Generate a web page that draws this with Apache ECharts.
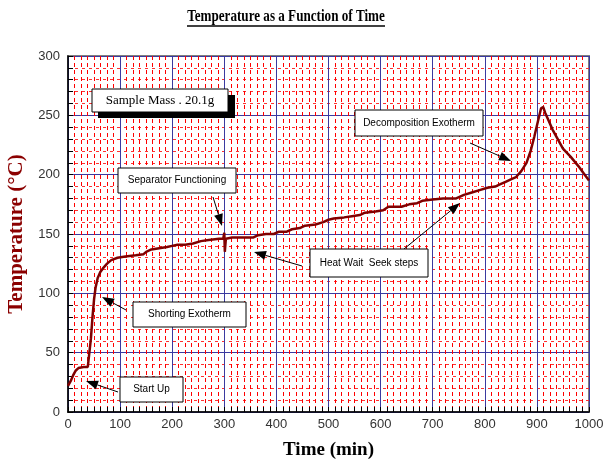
<!DOCTYPE html>
<html><head><meta charset="utf-8">
<script src="https://cdn.jsdelivr.net/npm/echarts@6/dist/echarts.min.js"></script>
<style>html,body{margin:0;padding:0;background:#fff}#c{width:603px;height:461px}</style>
</head><body><div id="c"></div>
<script>
var timeMin = [0,5,10,15,20,30,38,41,44,47,50,53,57,62,67,75,83,95,110,130,145,150,160,175,190,200,210,225,240,255,270,290,298,300,301,303,315,340,355,365,380,395,405,420,430,445,455,475,490,500,510,530,545,560,570,590,605,615,640,655,670,680,700,720,745,760,775,790,805,820,830,840,850,860,870,880,888,895,902,908,912,916,922,930,940,950,965,980,990,1000];
var tempC = [22,26,31,35,37,38,38,50,62,80,95,105,113,118,121,125,128,130,131,132,133,135,137,138,139,140,141,141,142,144,145,146,146,151,135,146,147,147,147,149,150,150,152,152,154,155,157,158,160,162,163,164,165,166,168,169,170,173,173,175,176,178,179,180,180,183,185,187,189,190,192,194,196,198,203,210,220,232,245,256,257,252,246,238,230,222,215,207,201,195];
var xTicks = [0,100,200,300,400,500,600,700,800,900,1000];
var yTicks = [0,50,100,150,200,250,300];

var annotations = [
  {text:'Separator Functioning', rect:[118,168,118,25], from:[213,197], to:[222,226]},
  {text:'Decomposition Exotherm', rect:[355,110,128,26], from:[470,143], to:[511,161]},
  {text:'Heat Wait  Seek steps', rect:[310,249,118,28], from:[302,266], to:[254,252], from2:[404,249], to2:[460,203]},
  {text:'Shorting Exotherm', rect:[133,302,113,25], from:[126,310], to:[102,297]},
  {text:'Start Up', rect:[120,377,63,25], from:[118,392], to:[86,381]}
];

function arrow(f, t) {
  var dx = t[0]-f[0], dy = t[1]-f[1], L = Math.sqrt(dx*dx+dy*dy);
  var ux = dx/L, uy = dy/L, hl = 12, hw = 4.5;
  var bx = t[0]-ux*hl, by = t[1]-uy*hl;
  return [
    {type:'line', shape:{x1:f[0],y1:f[1],x2:bx,y2:by}, style:{stroke:'#000',lineWidth:1}, z:100},
    {type:'polygon', shape:{points:[[t[0],t[1]],[bx-uy*hw,by+ux*hw],[bx+uy*hw,by-ux*hw]]}, style:{fill:'#000'}, z:100}
  ];
}

var graphics = [
  {type:'text', x:286, y:17, scaleX:0.82, style:{text:'Temperature as a Function of Time', font:'bold 16px "Liberation Serif", serif', fill:'#000', align:'center', verticalAlign:'middle'}},
  {type:'line', shape:{x1:187,y1:26,x2:385,y2:26}, style:{stroke:'#000',lineWidth:1.5}},
  {type:'rect', shape:{x:98,y:95,width:137,height:23}, style:{fill:'#000'}, z:100},
  {type:'rect', shape:{x:92,y:89,width:136,height:23}, style:{fill:'#fff',stroke:'#000',lineWidth:1}, z:101},
  {type:'text', x:160, y:101, style:{text:'Sample Mass . 20.1g', font:'13px "Liberation Serif", serif', fill:'#000', align:'center', verticalAlign:'middle'}, z:102}
];
annotations.forEach(function(a){
  var r = a.rect;
  graphics = graphics.concat(arrow(a.from, a.to));
  if (a.from2) graphics = graphics.concat(arrow(a.from2, a.to2));
  graphics.push({type:'rect', shape:{x:r[0],y:r[1],width:r[2],height:r[3]}, style:{fill:'#fff',stroke:'#000',lineWidth:1}, z:101});
  graphics.push({type:'text', x:r[0]+r[2]/2, y:r[1]+r[3]/2, style:{text:a.text, font:'10px "Liberation Sans", Arial, sans-serif', fill:'#000', align:'center', verticalAlign:'middle'}, z:102});
});

var chart = echarts.init(document.getElementById('c'), null, {renderer:'canvas'});
var data = timeMin.map(function(t,i){return [t, tempC[i]];});
chart.setOption({
  animation:false,
  backgroundColor:'#fff',
  grid:{left:68, right:14, top:56, bottom:49, containLabel:false, outerBoundsMode:'none', show:true, borderColor:'#808080', borderWidth:2, backgroundColor:'transparent'},
  xAxis:{
    type:'value', min:0, max:1000, interval:100,
    name:'Time (min)', nameLocation:'middle', nameGap:29,
    nameTextStyle:{fontFamily:'Liberation Serif', fontWeight:'bold', fontSize:19, color:'#000'},
    axisLine:{show:true, lineStyle:{color:'#000', width:1.5}},
    axisTick:{show:true, inside:true, length:5, lineStyle:{color:'#000'}},
    minorTick:{show:true, splitNumber:8, length:5, lineStyle:{color:'#000'}},
    axisLabel:{color:'#333', fontFamily:'Liberation Sans', fontSize:13, margin:6,
      formatter:function(v){return String(v);}},
    splitLine:{show:true, lineStyle:{color:'#3a3aa0', width:1}},
    minorSplitLine:{show:true, lineStyle:{color:'#ff0000', width:1, type:[4,3]}}
  },
  yAxis:{
    type:'value', min:0, max:300, interval:50,
    name:'Temperature (°C)', nameLocation:'middle', nameGap:40,
    nameTextStyle:{fontFamily:'Liberation Serif', fontWeight:'bold', fontSize:21, color:'#8b0000'},
    axisLine:{show:true, lineStyle:{color:'#000', width:1.5}},
    axisTick:{show:true, inside:true, length:5, lineStyle:{color:'#000'}},
    minorTick:{show:true, splitNumber:5, length:5, lineStyle:{color:'#000'}},
    axisLabel:{color:'#333', fontFamily:'Liberation Sans', fontSize:13, margin:8,
      formatter:function(v){return String(v);}},
    splitLine:{show:true, lineStyle:{color:'#3a3aa0', width:1}},
    minorSplitLine:{show:true, lineStyle:{color:'#ff3030', width:1, type:[3,4]}}
  },
  series:[{
    type:'line', data:data, showSymbol:false, symbol:'none', smooth:false,
    lineStyle:{color:'#800000', width:2.5}, z:5
  }],
  graphic:graphics
});
</script></body></html>
